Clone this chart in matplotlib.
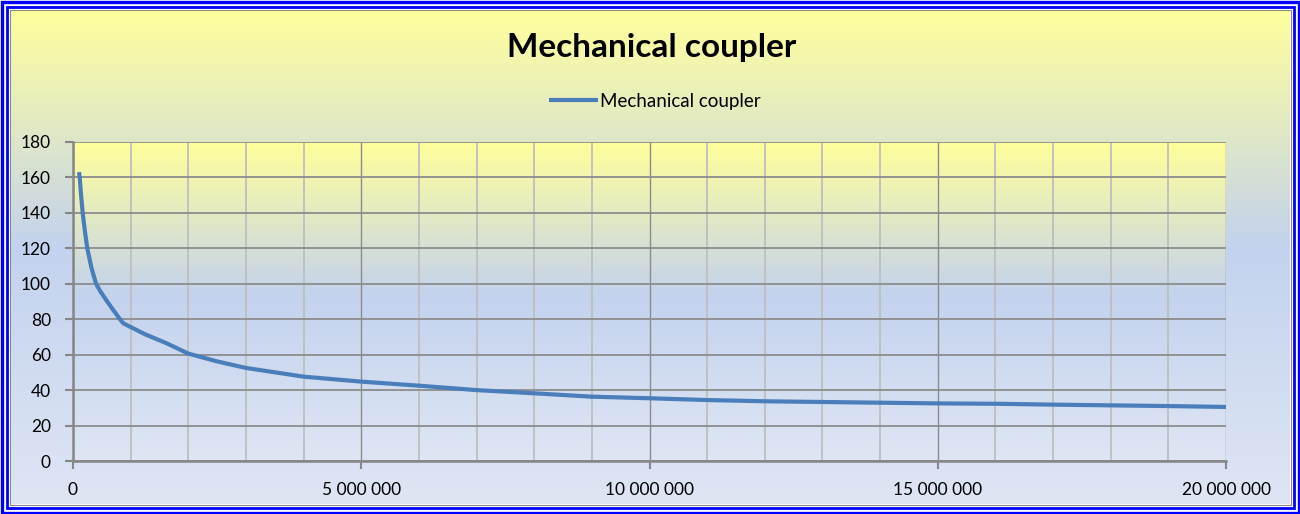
import matplotlib.pyplot as plt
import numpy as np
from matplotlib.colors import LinearSegmentedColormap
from matplotlib.patches import Rectangle
from matplotlib.ticker import FuncFormatter, MultipleLocator

# ── data ──────────────────────────────────────────────────────────────────────
x_vals = [0.104e6, 0.116e6, 0.14e6, 0.168e6, 0.205e6, 0.248e6, 0.32e6, 0.40e6,
          0.47e6, 0.555e6, 0.68e6, 0.815e6, 0.873e6, 1.0e6, 1.25e6, 1.625e6,
          2e6, 2.5e6, 3e6, 4e6, 5e6, 6e6, 7e6, 8e6, 9e6, 10e6, 11e6, 12e6,
          13e6, 14e6, 15e6, 16e6, 17e6, 18e6, 19e6, 20e6]
y_vals = [163, 160, 150, 140, 130, 120, 109, 100,
          96, 91.8, 86, 80, 77.7, 75.6, 71.5, 66.4,
          60.6, 56.2, 52.5, 47.6, 44.8, 42.5, 40.0, 38.2, 36.3, 35.4, 34.4, 33.7,
          33.3, 32.9, 32.5, 32.3, 31.8, 31.4, 31.0, 30.5]
series_name = "Mechanical coupler"
title = "Mechanical coupler"

W, H = 1300, 514
FONT = ["Lato", "DejaVu Sans"]
plt.rcParams["font.family"] = FONT

grad = LinearSegmentedColormap.from_list(
    "daybreak", [(0.0, "#FFFF9C"), (0.48, "#C3D2EE"), (1.0, "#DEE6F4")])
ramp = np.linspace(0, 1, 256).reshape(-1, 1)

fig = plt.figure(figsize=(W / 100, H / 100), dpi=100)

# ── frame + figure background (pixel coords) ─────────────────────────────────
bg = fig.add_axes([0, 0, 1, 1], zorder=-10)
bg.set_xlim(0, W)
bg.set_ylim(H, 0)
bg.axis("off")
bg.imshow(ramp, cmap=grad, aspect="auto", extent=[10, W - 10, H - 10, 10],
          zorder=1)
bg.set_xlim(0, W)
bg.set_ylim(H, 0)
bg.add_patch(Rectangle((1.5, 1.5), W - 3, H - 3, fill=False,
                       edgecolor="#0000FF", linewidth=2.4, zorder=3))
bg.add_patch(Rectangle((6.5, 6.5), W - 13, H - 13, fill=False,
                       edgecolor="#0000FF", linewidth=2.0, zorder=3))
bg.add_patch(Rectangle((9.5, 9.5), W - 19, H - 19, fill=False,
                       edgecolor="#8C8C8C", linewidth=0.8, zorder=3))

# ── plot area ─────────────────────────────────────────────────────────────────
pos = [73 / W, 1 - 461 / H, (1226 - 73) / W, (461 - 142) / H]
pbg = fig.add_axes(pos, zorder=-5)
pbg.imshow(ramp, cmap=grad, aspect="auto")
pbg.axis("off")

ax = fig.add_axes(pos)
ax.set_facecolor("none")
ax.plot(x_vals, y_vals, color="#4A7EBB", linewidth=3.0,
        solid_capstyle="butt", solid_joinstyle="round",
        label=series_name, zorder=5)

ax.set_xlim(0, 20e6)
ax.set_ylim(0, 180)
ax.yaxis.set_major_locator(MultipleLocator(20))
ax.xaxis.set_major_locator(MultipleLocator(5e6))
ax.xaxis.set_minor_locator(MultipleLocator(1e6))
ax.xaxis.set_major_formatter(
    FuncFormatter(lambda v, _: f"{int(v):,}".replace(",", " ")))

ax.grid(which="minor", axis="x", color="#BEBEBE", linewidth=1.3)
ax.grid(which="major", axis="x", color="#8C8C8C", linewidth=1.0)
ax.grid(which="major", axis="y", color="#8C8C8C", linewidth=1.3)
ax.set_axisbelow(True)

for side in ("top", "right"):
    ax.spines[side].set_visible(False)
for side in ("left", "bottom"):
    ax.spines[side].set_color("#868686")
    ax.spines[side].set_linewidth(1.8)

ax.tick_params(axis="both", which="major", colors="#868686", width=1.5,
               length=6, labelcolor="black", labelsize=12.5)
ax.tick_params(axis="x", which="minor", length=0)
ax.tick_params(axis="x", pad=9)
ax.tick_params(axis="y", pad=10)

fig.text(652 / W, 1 - 47 / H, title, ha="center", va="center",
         fontsize=24, fontweight="bold")
fig.legend(loc="center", bbox_to_anchor=(655 / W, 1 - 101 / H),
           frameon=False, fontsize=13.5, handlelength=2.6, handletextpad=0.15)

fig.savefig("out.png", dpi=100)
